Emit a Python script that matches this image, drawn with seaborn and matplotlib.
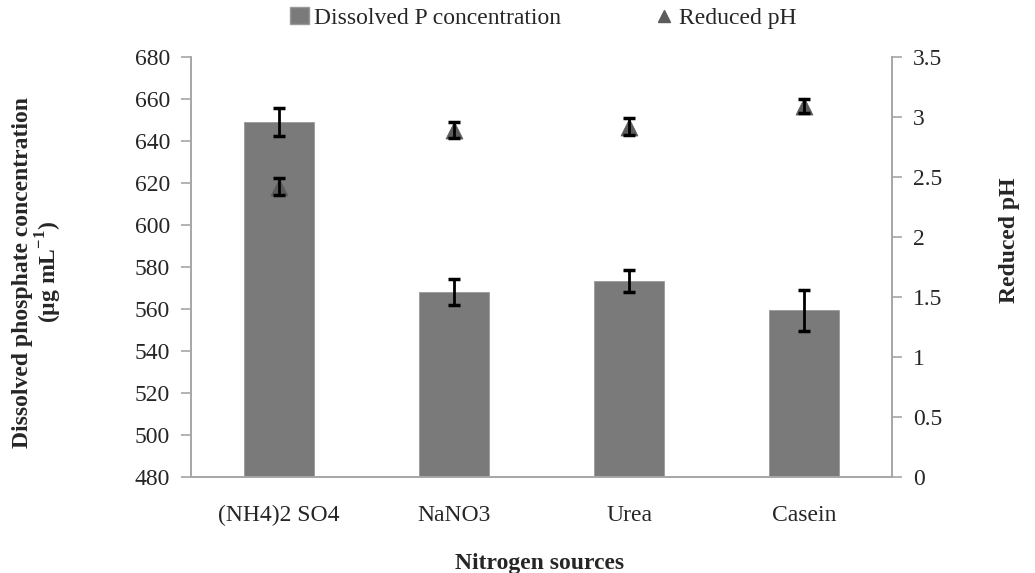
import numpy as np
import pandas as pd
import matplotlib
matplotlib.use("Agg")
import matplotlib.pyplot as plt
import seaborn as sns
from matplotlib.lines import Line2D
from matplotlib.patches import Patch

categories = ["(NH4)2 SO4", "NaNO3", "Urea", "Casein"]
p_conc = [649.0, 568.2, 573.2, 559.4]
p_err = [6.7, 6.3, 5.2, 9.8]
ph_vals = [2.42, 2.89, 2.92, 3.09]
ph_err = [0.07, 0.065, 0.07, 0.06]

sns.set_theme(style="white")
plt.rcParams['font.family'] = ['Liberation Serif', 'DejaVu Serif']
plt.rcParams['mathtext.fontset'] = 'custom'
plt.rcParams['mathtext.rm'] = 'Liberation Serif'
plt.rcParams['mathtext.bf'] = 'Liberation Serif:bold'

df = pd.DataFrame({"source": categories, "conc": p_conc, "ph": ph_vals})
pos = np.arange(len(categories))

fig = plt.figure(figsize=(10.35, 5.73), dpi=100)
ax = fig.add_axes([191/1035, 1-477/573, (892-191)/1035, (477-57)/573])

bar_color = "#7a7a7a"
tri_color = "#5c5c5c"
sns.barplot(data=df, x="source", y="conc", ax=ax, color=bar_color, width=0.4,
            saturation=1, edgecolor="#9a9a9a", linewidth=0.6)
ax.errorbar(pos, p_conc, yerr=p_err, fmt="none", ecolor="black",
            elinewidth=2, capsize=4.5, capthick=2.5, zorder=5)

ax.set_ylim(480, 680)
ax.set_yticks(np.arange(480, 681, 20))
ax.set_xlim(-0.5, len(categories) - 0.5)

ax2 = ax.twinx()
sns.scatterplot(x=pos, y=ph_vals, ax=ax2, marker="^", s=150, color=tri_color,
                edgecolor=tri_color, linewidth=0.5, zorder=4, legend=False)
ax2.errorbar(pos, ph_vals, yerr=ph_err, fmt="none", ecolor="black",
             elinewidth=2, capsize=4.5, capthick=2.5, zorder=5)
ax2.set_ylim(0, 3.5)
ax2.set_yticks(np.arange(0, 3.51, 0.5))
ax2.set_yticklabels(["0", "0.5", "1", "1.5", "2", "2.5", "3", "3.5"])
ax2.set_xlim(-0.5, len(categories) - 0.5)

spine_c = "#a6a6a6"
for a in (ax, ax2):
    for s in a.spines.values():
        s.set_color(spine_c)
        s.set_linewidth(1.2)
    a.spines["top"].set_visible(False)
    a.grid(False)

ax.set_xticks(pos)
ax.set_xticklabels(categories)
ax.set_xticks(np.arange(-0.5, len(categories), 1.0), minor=True)
ax.tick_params(axis="x", which="major", length=0, pad=20, labelsize=17)
ax.tick_params(axis="x", which="minor", length=8, width=1.2, color=spine_c, direction="out")
ax.tick_params(axis="y", length=7, width=1.2, color=spine_c, direction="out", labelsize=17, pad=8)
ax2.tick_params(axis="y", length=7, width=1.2, color=spine_c, direction="out", labelsize=17, pad=8)

ax.set_xlabel("")
ax.set_ylabel("")
ax2.set_ylabel("")

fig.text(540/1035, 1-563/573, "Nitrogen sources", ha="center", va="center",
         fontsize=17, fontweight="bold")
fig.text(38/1035, 1-272/573, "Dissolved phosphate concentration\n(µg mL$^{\\mathbf{-1}}$)",
         ha="center", va="center", rotation=90, fontsize=17, fontweight="bold",
         multialignment="center", linespacing=1.05)
fig.text(1010/1035, 1-240/573, "Reduced pH", ha="center", va="center",
         rotation=90, fontsize=17, fontweight="bold")

handles = [Patch(facecolor=bar_color, edgecolor="#9a9a9a"),
           Line2D([], [], marker="^", linestyle="none", color=tri_color, markersize=8)]
fig.legend(handles, ["Dissolved P concentration", "Reduced pH"], loc="center",
           bbox_to_anchor=(543/1035, 1-18/573), ncol=2, frameon=False,
           fontsize=17, handlelength=0.8, handletextpad=0.2, columnspacing=4.0)

fig.savefig("out.png", dpi=100)
